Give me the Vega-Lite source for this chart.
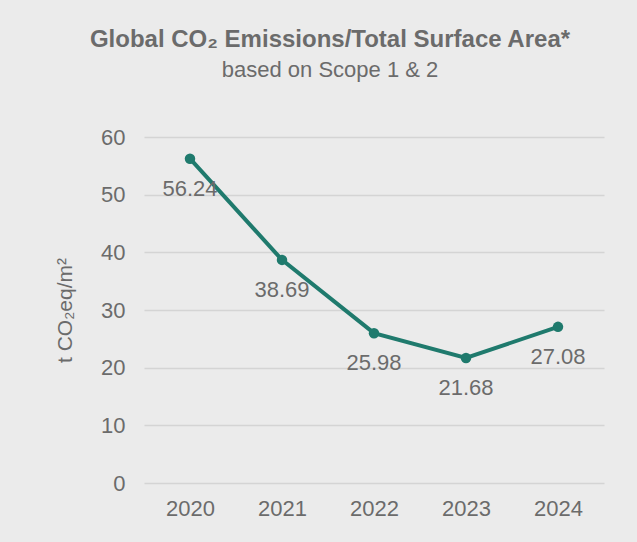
{
  "$schema": "https://vega.github.io/schema/vega-lite/v6.json",
  "autosize": {"type": "none"},
  "width": 460,
  "height": 346,
  "padding": {"left": 144, "top": 137, "right": 33, "bottom": 59},
  "background": "#ebebeb",
  "title": {
    "text": "Global CO₂ Emissions/Total Surface Area*",
    "subtitle": "based on Scope 1 & 2",
    "anchor": "middle",
    "dx": -44,
    "offset": 45,
    "font": "Liberation Sans",
    "fontSize": 24,
    "fontWeight": "bold",
    "color": "#6b6b6b",
    "subtitleFont": "Liberation Sans",
    "subtitleFontSize": 22,
    "subtitleFontWeight": "normal",
    "subtitleColor": "#6b6b6b",
    "subtitlePadding": 8
  },
  "data": {
    "values": [
      {"year": "2020", "value": 56.24},
      {"year": "2021", "value": 38.69},
      {"year": "2022", "value": 25.98},
      {"year": "2023", "value": 21.68},
      {"year": "2024", "value": 27.08}
    ]
  },
  "config": {
    "view": {"stroke": null},
    "axis": {
      "labelFont": "Liberation Sans",
      "labelFontSize": 22,
      "labelColor": "#6b6b6b",
      "titleFont": "Liberation Sans",
      "titleFontSize": 21,
      "titleFontWeight": "normal",
      "titleColor": "#6b6b6b",
      "domain": false,
      "ticks": false
    }
  },
  "encoding": {
    "x": {
      "field": "year",
      "type": "ordinal",
      "scale": {"type": "point", "padding": 0.5},
      "axis": {"title": null, "labelAngle": 0, "labelPadding": 15, "grid": false}
    },
    "y": {
      "field": "value",
      "type": "quantitative",
      "scale": {"domain": [0, 60]},
      "axis": {
        "title": "t CO₂eq/m²",
        "values": [0, 10, 20, 30, 40, 50, 60],
        "labelPadding": 19,
        "grid": true,
        "gridColor": "#d4d4d4",
        "gridWidth": 1.5,
        "titleX": -79,
        "titleBaseline": "middle"
      }
    }
  },
  "layer": [
    {
      "mark": {
        "type": "line",
        "color": "#1f7a6d",
        "strokeWidth": 4,
        "point": {"size": 110, "filled": true, "color": "#1f7a6d", "opacity": 1}
      }
    },
    {
      "mark": {
        "type": "text",
        "dy": 30,
        "baseline": "middle",
        "font": "Liberation Sans",
        "fontSize": 22,
        "color": "#6b6b6b"
      },
      "encoding": {"text": {"field": "value", "type": "quantitative", "format": ".2f"}}
    }
  ]
}
